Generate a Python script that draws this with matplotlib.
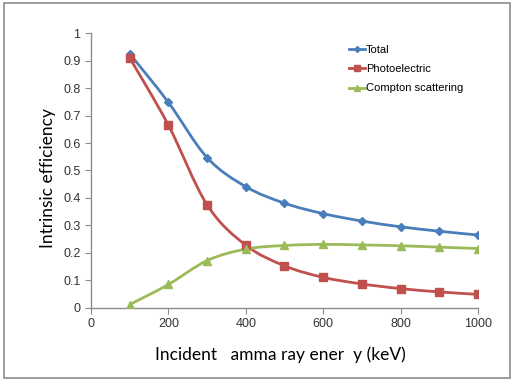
import matplotlib
matplotlib.use("Agg")
import matplotlib.pyplot as plt
import numpy as np
from matplotlib.path import Path
from matplotlib.patches import PathPatch, Rectangle
from matplotlib.lines import Line2D

plt.rcParams['font.family'] = ['Liberation Sans', 'DejaVu Sans']

# --- data ---
energy = [100, 200, 300, 400, 500, 600, 700, 800, 900, 1000]
total = [0.925, 0.748, 0.547, 0.441, 0.381, 0.343, 0.316, 0.295, 0.279, 0.265]
photo = [0.910, 0.665, 0.375, 0.228, 0.153, 0.111, 0.087, 0.070, 0.058, 0.049]
compton = [0.012, 0.085, 0.172, 0.214, 0.227, 0.231, 0.229, 0.226, 0.221, 0.216]

x_ticks = [0, 200, 400, 600, 800, 1000]
y_ticks = [0, 0.1, 0.2, 0.3, 0.4, 0.5, 0.6, 0.7, 0.8, 0.9, 1]


def smooth_path(xs, ys):
    # Excel style smoothed line: cardinal spline drawn as cubic bezier segments
    xs = np.asarray(xs, float)
    ys = np.asarray(ys, float)
    pts = np.column_stack([xs, ys])
    verts = [pts[0]]
    codes = [Path.MOVETO]
    n = len(pts)
    for i in range(n - 1):
        p0 = pts[i - 1] if i > 0 else pts[i]
        p1 = pts[i]
        p2 = pts[i + 1]
        p3 = pts[i + 2] if i + 2 < n else pts[i + 1]
        c1 = p1 + (p2 - p0) / 6.0
        c2 = p2 - (p3 - p1) / 6.0
        verts += [c1, c2, p2]
        codes += [Path.CURVE4] * 3
    return Path(verts, codes)


fig = plt.figure(figsize=(5.14, 3.81), dpi=100)
ax = fig.add_axes([0.177, 0.192, 0.753, 0.721])

series = [
    ("Total", total, "#4A7EBB", "D", 4),
    ("Photoelectric", photo, "#C0504D", "s", 5.5),
    ("Compton scattering", compton, "#9BBB59", "^", 6),
]

handles = []
for name, vals, col, mk, ms in series:
    ax.add_patch(PathPatch(smooth_path(energy, vals), facecolor="none",
                           edgecolor=col, lw=2, zorder=2))
    ax.plot(energy, vals, ls="none", marker=mk, ms=ms, color=col, zorder=3)
    handles.append(Line2D([], [], color=col, lw=2, marker=mk, ms=ms - 1))

ax.set_xlim(0, 1000)
ax.set_ylim(0, 1)
ax.set_xticks(x_ticks)
ax.set_yticks(y_ticks)
ax.set_yticklabels(["0", "0.1", "0.2", "0.3", "0.4", "0.5", "0.6", "0.7", "0.8", "0.9", "1"])

for s in ["top", "right"]:
    ax.spines[s].set_visible(False)
for s in ["left", "bottom"]:
    ax.spines[s].set_color("#8c8c8c")
    ax.spines[s].set_linewidth(1)
ax.tick_params(direction="out", length=4, color="#8c8c8c", labelsize=9,
               labelcolor="#333333")

ax.set_xlabel("Incident   amma ray ener  y (keV)", fontsize=12.5,
              family=["Lato", "DejaVu Sans"])
ax.set_ylabel("Intrinsic efficiency", fontsize=12.5,
              family=["Lato", "DejaVu Sans"])
ax.xaxis.set_label_coords(0.49, -0.14)
ax.yaxis.set_label_coords(-0.09, 0.473)

ax.legend(handles, [s[0] for s in series], loc="upper left",
          bbox_to_anchor=(0.64, 0.995), frameon=False, fontsize=8,
          handlelength=1.5, handletextpad=0.05, labelspacing=0.85)

fig.patches.append(Rectangle((0.008, 0.008), 0.984, 0.984, transform=fig.transFigure,
                             fill=False, edgecolor="#8c8c8c", lw=1.2))

fig.savefig("out.png", dpi=100)
